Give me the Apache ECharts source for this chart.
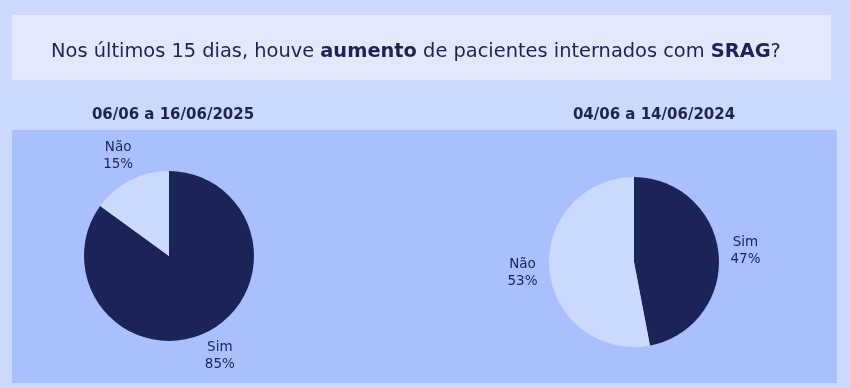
<!DOCTYPE html>
<html>
<head>
<meta charset="utf-8">
<script src="https://cdn.jsdelivr.net/npm/echarts@6/dist/echarts.min.js"></script>
<style>
html,body{margin:0;padding:0;background:#cbd9fe;}
#chart{width:850px;height:388px;}
</style>
</head>
<body>
<div id="chart"></div>
<script>
const categories = ['Sim', 'Não'];
const values2025 = [85, 15];
const values2024 = [47, 53];
const periodLabels = ['06/06 a 16/06/2025', '04/06 a 14/06/2024'];
const sliceColors = ['#1a2457', '#cbd9fe'];

const textColor = '#1a2457';
const chart = echarts.init(document.getElementById('chart'), null, {renderer: 'canvas'});

function pieSeries(values, cx, cy) {
  return {
    type: 'pie',
    center: [cx, cy],
    radius: [0, 85],
    startAngle: 90,
    clockwise: true,
    silent: true,
    data: categories.map((c, i) => ({name: c, value: values[i], itemStyle: {color: sliceColors[i]}})),
    label: {
      show: true,
      position: 'outside',
      formatter: p => p.name + '\n' + Math.round(p.percent) + '%',
      color: textColor,
      fontFamily: 'DejaVu Sans',
      fontSize: 13.5,
      lineHeight: 17,
      distanceToLabelLine: 0
    },
    labelLine: {show: false, length: 27, length2: 0},
    labelLayout: {align: 'center'}
  };
}

chart.setOption({
  backgroundColor: '#cbd9fe',
  animation: false,
  graphic: [
    {type: 'rect', z: -10, shape: {x: 12, y: 15, width: 819, height: 65}, style: {fill: '#e3e8fd'}},
    {type: 'rect', z: -10, shape: {x: 12, y: 130, width: 825, height: 253}, style: {fill: '#a9c0fe'}}
  ],
  title: [
    {
      left: 411, top: 37, textAlign: 'center',
      text: '{n|Nos últimos 15 dias, houve }{b|aumento}{n| de pacientes internados com }{b|SRAG}{n|?}',
      textStyle: {
        rich: {
          n: {fontFamily: 'DejaVu Sans', fontSize: 19.4, fontWeight: 'normal', color: textColor},
          b: {fontFamily: 'DejaVu Sans', fontSize: 19.4, fontWeight: 'bold', color: textColor}
        }
      }
    },
    {
      left: 168, top: 103, textAlign: 'center', text: periodLabels[0],
      textStyle: {fontFamily: 'DejaVu Sans', fontSize: 15, fontWeight: 'bold', color: textColor}
    },
    {
      left: 649, top: 103, textAlign: 'center', text: periodLabels[1],
      textStyle: {fontFamily: 'DejaVu Sans', fontSize: 15, fontWeight: 'bold', color: textColor}
    }
  ],
  series: [pieSeries(values2025, 169, 256), pieSeries(values2024, 634, 262)]
});
</script>
</body>
</html>
